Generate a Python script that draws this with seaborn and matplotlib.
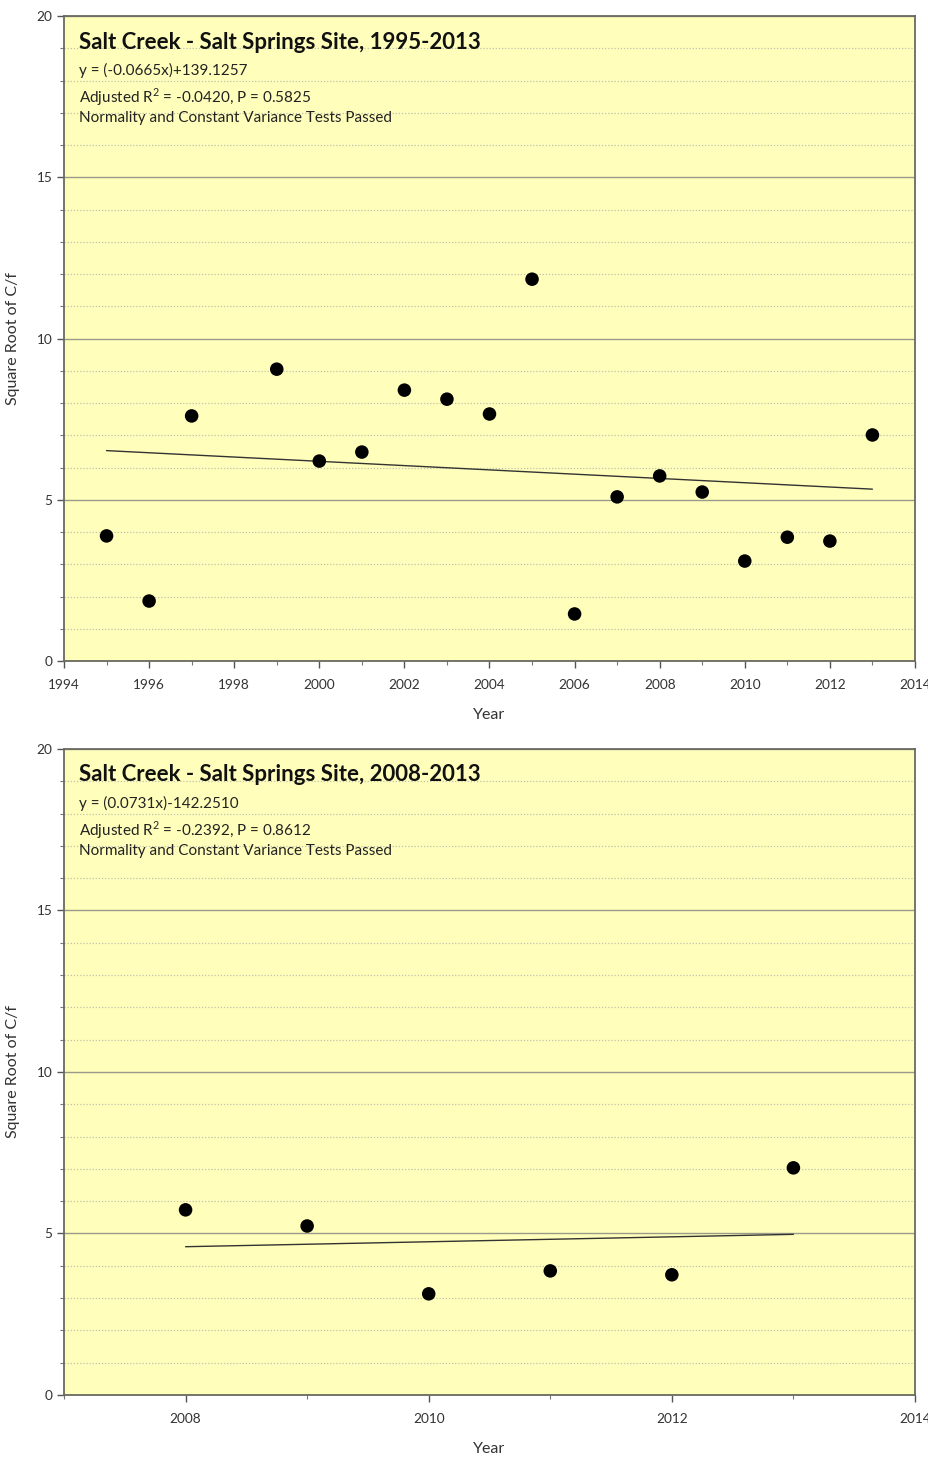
import numpy as np
import pandas as pd
import seaborn as sns
import matplotlib.pyplot as plt
from matplotlib.ticker import MultipleLocator

# Data
years_all = [1995, 1996, 1997, 1999, 2000, 2001, 2002, 2003, 2004,
             2005, 2006, 2007, 2008, 2009, 2010, 2011, 2012, 2013]
sqrt_cf_all = [3.88, 1.86, 7.60, 9.05, 6.20, 6.48, 8.40, 8.12, 7.66,
               11.84, 1.46, 5.09, 5.74, 5.24, 3.10, 3.84, 3.72, 7.01]

years_recent = [2008, 2009, 2010, 2011, 2012, 2013]
sqrt_cf_recent = [5.73, 5.23, 3.13, 3.84, 3.72, 7.03]

titles = ["Salt Creek - Salt Springs Site, 1995-2013",
          "Salt Creek - Salt Springs Site, 2008-2013"]
equations = ["y = (-0.0665x)+139.1257", "y = (0.0731x)-142.2510"]
stats = [("-0.0420", "0.5825"), ("-0.2392", "0.8612")]
note = "Normality and Constant Variance Tests Passed"

sns.set_style("ticks")
plt.rcParams["font.family"] = ["Lato", "DejaVu Sans"]
plt.rcParams["mathtext.fontset"] = "custom"
plt.rcParams["mathtext.rm"] = "Lato"

fig = plt.figure(figsize=(9.29, 14.57), dpi=100)
ax1 = fig.add_axes([0.0689, 0.5463, 0.9160, 0.4427])
ax2 = fig.add_axes([0.0689, 0.0426, 0.9160, 0.4434])

panels = [
    (ax1, years_all, sqrt_cf_all, (1994, 2014)),
    (ax2, years_recent, sqrt_cf_recent, (2007, 2014)),
]

for i, (ax, xs, ys, xlim) in enumerate(panels):
    df = pd.DataFrame({"Year": xs, "Square Root of C/f": ys})
    ax.set_facecolor("#ffffbb")
    sns.regplot(data=df, x="Year", y="Square Root of C/f", ax=ax, ci=None,
                scatter_kws={"s": 95, "color": "black", "edgecolor": "none",
                             "alpha": 1, "zorder": 4},
                line_kws={"color": "#333333", "lw": 1.0, "zorder": 3})

    ax.set_xlim(*xlim)
    ax.set_ylim(0, 20)
    ax.xaxis.set_major_locator(MultipleLocator(2))
    ax.xaxis.set_minor_locator(MultipleLocator(1))
    ax.yaxis.set_major_locator(MultipleLocator(5))
    ax.yaxis.set_minor_locator(MultipleLocator(1))

    ax.grid(which="major", axis="y", color="#9a9a8a", lw=1.0, ls="-")
    ax.grid(which="minor", axis="y", color="#c0c0ae", lw=0.9, ls=(0, (1, 1.5)))
    ax.set_axisbelow(True)

    for side in ["left", "bottom", "top", "right"]:
        ax.spines[side].set_visible(True)
        ax.spines[side].set_color("#6a6a60")
        ax.spines[side].set_linewidth(1.3)

    ax.tick_params(which="major", direction="out", length=5, width=1,
                   color="#555555", labelsize=9.8, labelcolor="#333333")
    ax.tick_params(axis="x", which="major", pad=8)
    ax.tick_params(which="minor", direction="out", length=3, width=0.8,
                   color="#777777")
    if i == 1:
        # bottom panel shows labels only at even years
        ax.set_xticks([2008, 2010, 2012, 2014])

    ax.set_xlabel("Year", fontsize=11.5, color="#333333", labelpad=12)
    ax.set_ylabel("Square Root of C/f", fontsize=11.5, color="#333333",
                  labelpad=12)

    ax.text(0.0176, 0.9597, titles[i], transform=ax.transAxes,
            fontsize=16, fontweight="bold", va="center", ha="left",
            color="#111111")
    ax.text(0.0176, 0.9163, equations[i], transform=ax.transAxes,
            fontsize=11, va="center", ha="left", color="#222222")
    r2, p = stats[i]
    ax.text(0.0176, 0.8744,
            "Adjusted R$^{\\mathregular{2}}$ = " + r2 + ", P = " + p,
            transform=ax.transAxes, fontsize=11, va="center", ha="left",
            color="#222222")
    ax.text(0.0176, 0.8419, note, transform=ax.transAxes,
            fontsize=11, va="center", ha="left", color="#222222")

fig.savefig("out.png", dpi=100, facecolor="white")
